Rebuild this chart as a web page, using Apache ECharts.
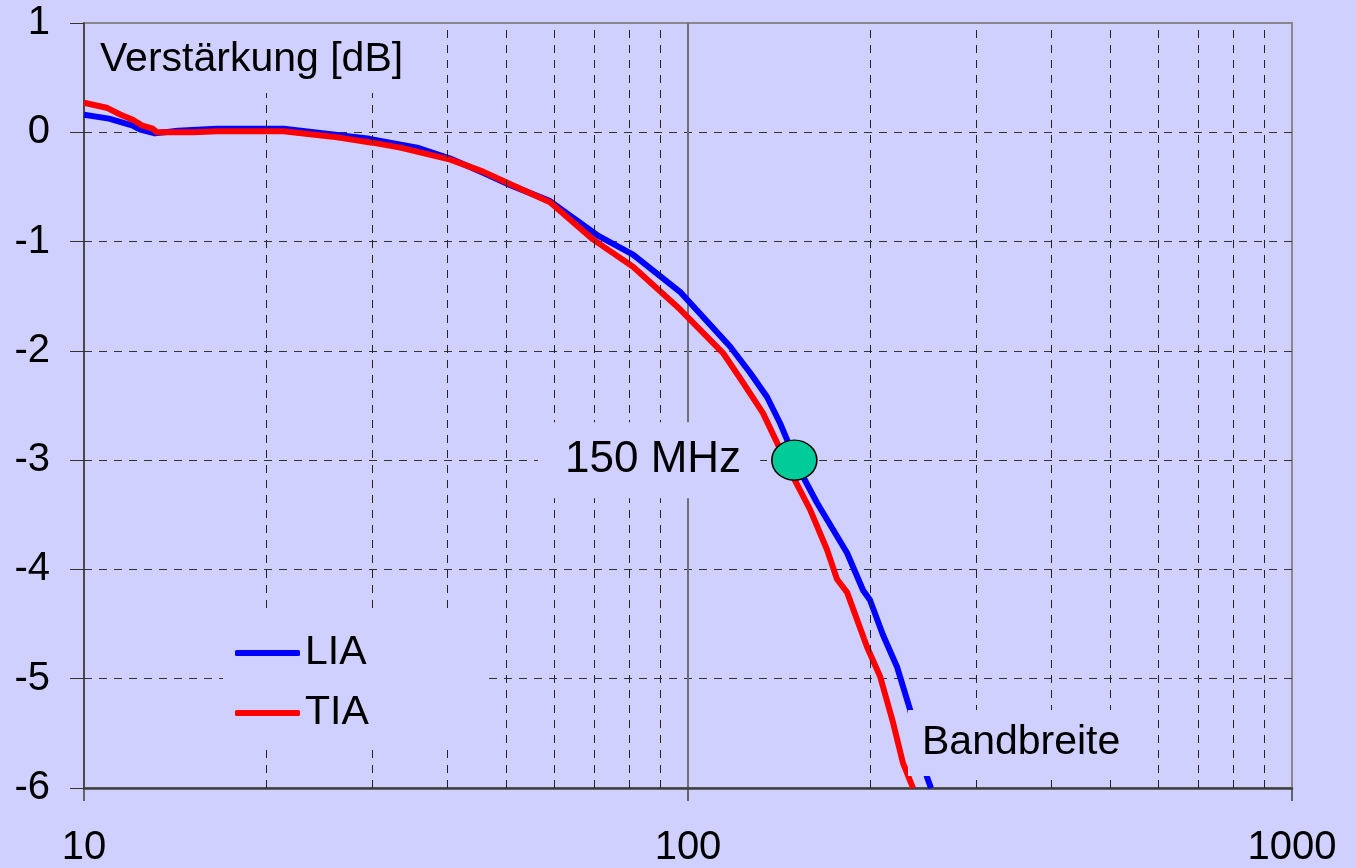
<!DOCTYPE html>
<html>
<head>
<meta charset="utf-8">
<title>Verstärkung LIA / TIA</title>
<script src="https://cdn.jsdelivr.net/npm/echarts@6/dist/echarts.min.js"></script>
<style>
  html, body { margin: 0; padding: 0; background: #D0D0FE; }
  #chart { width: 1355px; height: 868px; }
</style>
</head>
<body>
<div id="chart"></div>
<script>
// Frequency response, gain in dB over frequency in MHz (log axis)
const freqLIA = [10, 11.0, 12.05, 12.4, 13.1, 14.3, 16.6, 21.4, 29.7, 35.6, 40.4, 45.8, 50.1, 59.1, 70.7, 81.1, 97.0, 117.4, 126.7, 135.1, 142.0, 145.8, 155.0, 163.5, 183.4, 194.9, 200.1, 210.3, 221.8, 233.1, 248.7, 252.5];
const gainLIA = [0.16, 0.125, 0.06, 0.024, -0.01, 0.015, 0.033, 0.033, -0.06, -0.14, -0.24, -0.37, -0.47, -0.63, -0.94, -1.12, -1.46, -1.96, -2.2, -2.42, -2.66, -2.81, -3.15, -3.39, -3.85, -4.19, -4.28, -4.60, -4.89, -5.28, -5.90, -6.0];

const freqTIA = [10, 10.9, 11.5, 12.05, 12.5, 13.0, 13.2, 15.2, 16.6, 21.4, 25.8, 30.0, 33.4, 40.4, 45.8, 50.1, 59.1, 69.6, 81.1, 97.0, 114.3, 123.3, 133.1, 140.4, 149.2, 159.2, 169.9, 176.5, 183.4, 197.9, 208.0, 218.5, 226.9, 235.8];
const gainTIA = [0.27, 0.225, 0.16, 0.115, 0.06, 0.033, 0.0, 0.0, 0.01, 0.01, -0.04, -0.095, -0.14, -0.25, -0.36, -0.46, -0.64, -0.98, -1.23, -1.62, -2.02, -2.29, -2.57, -2.84, -3.15, -3.45, -3.82, -4.09, -4.21, -4.71, -4.98, -5.40, -5.77, -6.0];

// -3 dB bandwidth point
const bwFreq = 150;
const bwGain = -3;

// Axis ranges and grid lines
const xMin = 10, xMax = 1000;
const yMin = -6, yMax = 1, yStep = 1;
const xMinorGrid = [20, 30, 40, 50, 60, 70, 80, 90, 200, 300, 400, 500, 600, 700, 800, 900];

const BG = '#D0D0FE';
const FONT = '"Liberation Sans", Arial, sans-serif';

const zip = (xs, ys) => xs.map((x, i) => [x, ys[i]]);

const chart = echarts.init(document.getElementById('chart'), null, { renderer: 'canvas' });

chart.setOption({
  backgroundColor: BG,
  animation: false,
  grid: {
    left: 84, right: 63, top: 23, bottom: 80,
    show: true, borderColor: '#888', borderWidth: 2, backgroundColor: 'transparent'
  },
  xAxis: {
    type: 'log', logBase: 10, min: xMin, max: xMax,
    axisLine: { show: true, onZero: false, lineStyle: { color: '#404040', width: 2.5 } },
    axisTick: { show: true, length: 13, lineStyle: { color: '#404040', width: 1.5 } },
    axisLabel: { fontSize: 40, fontFamily: FONT, color: '#000', margin: 40, formatter: v => String(Math.round(v)) },
    splitLine: { show: true, showMinLine: false, showMaxLine: false, lineStyle: { color: '#6e6e78', width: 2 } },
    minorTick: { show: false }
  },
  yAxis: {
    type: 'value', min: yMin, max: yMax, interval: yStep,
    axisLine: { show: true, onZero: false, lineStyle: { color: '#333', width: 1.5 } },
    axisTick: { show: true, length: 14, lineStyle: { color: '#333', width: 1 } },
    axisLabel: { fontSize: 40, fontFamily: FONT, color: '#000', margin: 34 },
    splitLine: { show: true, showMinLine: false, showMaxLine: false, lineStyle: { color: '#333', width: 1, type: [8, 7] } }
  },
  legend: {
    orient: 'vertical', left: 223, top: 615,
    padding: [14, 118, 9, 12],
    backgroundColor: BG,
    itemGap: 12, itemWidth: 65, itemHeight: 6,
    icon: 'roundRect',
    textStyle: { fontSize: 41, fontFamily: FONT, color: '#000', lineHeight: 48 },
    data: ['LIA', 'TIA'],
    z: 20
  },
  series: [
    {
      // minor decade grid lines
      name: 'grid', type: 'line', data: [], z: 1, silent: true,
      markLine: {
        silent: true, symbol: ['none', 'none'], label: { show: false },
        lineStyle: { color: '#222', width: 1, type: [8, 7] },
        data: xMinorGrid.map(v => ({ xAxis: v }))
      }
    },
    {
      name: 'LIA', type: 'line', data: zip(freqLIA, gainLIA),
      showSymbol: false, symbol: 'none', z: 3,
      lineStyle: { color: '#0000FF', width: 6, join: 'round' },
      itemStyle: { color: '#0000FF' }
    },
    {
      name: 'TIA', type: 'line', data: zip(freqTIA, gainTIA),
      showSymbol: false, symbol: 'none', z: 3,
      lineStyle: { color: '#FF0000', width: 6, join: 'round' },
      itemStyle: { color: '#FF0000' }
    },
    {
      name: 'bw', type: 'scatter', data: [[bwFreq, bwGain]], z: 6,
      symbol: 'circle', symbolSize: [45, 40],
      itemStyle: { color: '#00CC99', borderColor: '#000', borderWidth: 1.5, opacity: 1 },
      label: {
        show: true, position: 'left', distance: 11,
        formatter: bwFreq + ' MHz',
        fontSize: 44, fontFamily: FONT, color: '#000', lineHeight: 50,
        backgroundColor: BG, padding: [13, 19, 13, 27]
      }
    }
  ],
  graphic: [
    { type: 'rect', x: 85, y: 24, shape: { width: 335, height: 69 }, style: { fill: BG }, z: 50, silent: true },
    { type: 'text', x: 100, y: 60, z: 51, silent: true,
      style: { text: 'Verstärkung [dB]', fontSize: 41, fontFamily: FONT, fill: '#000', verticalAlign: 'middle' } },
    { type: 'rect', x: 908, y: 710, shape: { width: 227, height: 66 }, style: { fill: BG }, z: 50, silent: true },
    { type: 'text', x: 922, y: 743, z: 51, silent: true,
      style: { text: 'Bandbreite', fontSize: 41, fontFamily: FONT, fill: '#000', verticalAlign: 'middle' } }
  ]
});
</script>
</body>
</html>
